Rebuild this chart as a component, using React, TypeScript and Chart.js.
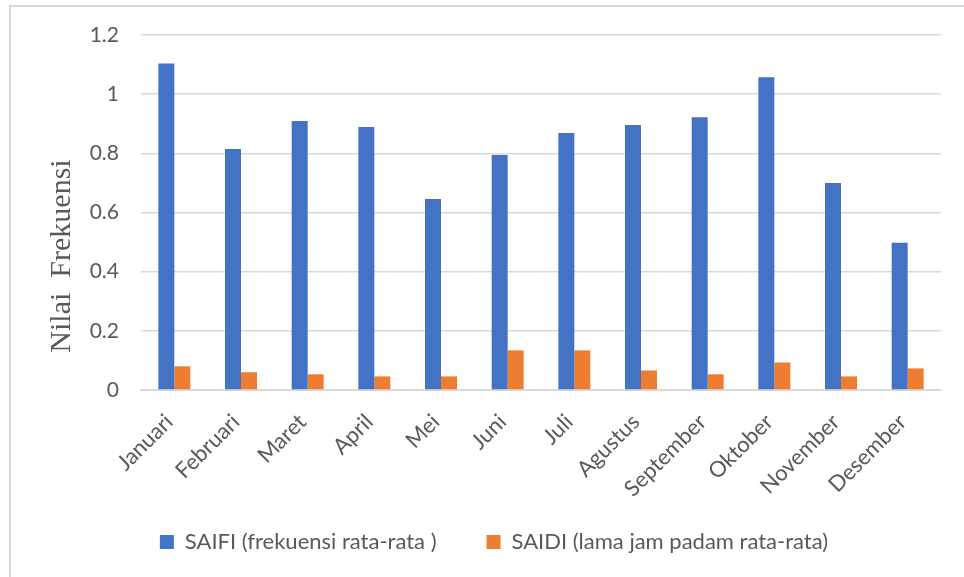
import React, { useEffect, useRef } from "react";
import { Chart, registerables } from "chart.js";

Chart.register(...registerables);

const months = [
  "Januari", "Februari", "Maret", "April", "Mei", "Juni",
  "Juli", "Agustus", "September", "Oktober", "November", "Desember",
];
const saifi = [1.104, 0.815, 0.909, 0.889, 0.646, 0.794, 0.869, 0.896, 0.922, 1.057, 0.7, 0.498];
const saidi = [0.08, 0.06, 0.053, 0.046, 0.046, 0.134, 0.134, 0.066, 0.053, 0.093, 0.046, 0.073];
const yTicks = [0, 0.2, 0.4, 0.6, 0.8, 1, 1.2];
const seriesNames = ["SAIFI (frekuensi rata-rata )", "SAIDI (lama jam padam rata-rata)"];
const seriesColors = ["#4472C4", "#ED7D31"];
const yTitle = "Nilai  Frekuensi";

const TEXT = "#595959";
const GRID = "#d9d9d9";

const yTitlePlugin = {
  id: "yTitleCustom",
  afterDraw(chart: any) {
    const { ctx, chartArea } = chart;
    const ys = chart.scales.y;
    ctx.save();
    ctx.translate(ys.left + 15, chartArea.bottom - 134);
    ctx.rotate(-Math.PI / 2);
    ctx.font = "30px 'Liberation Serif', 'Times New Roman', serif";
    ctx.fillStyle = TEXT;
    ctx.textAlign = "center";
    ctx.textBaseline = "middle";
    ctx.fillText(yTitle, 0, 0);
    ctx.restore();
  },
};

// let the rotated month labels draw below the x-axis box (no clipping)
const labelRoomPlugin = {
  id: "labelRoom",
  afterLayout(chart: any) {
    chart.scales.x.bottom = chart.height;
  },
};

export default function App() {
  const ref = useRef<HTMLCanvasElement>(null);

  useEffect(() => {
    if (!ref.current) return;
    Chart.defaults.font.family = "Lato";
    const chart = new Chart(ref.current, {
      type: "bar",
      data: {
        labels: months,
        datasets: [
          {
            label: seriesNames[0],
            data: saifi,
            backgroundColor: seriesColors[0],
            borderWidth: 0,
            categoryPercentage: 0.48,
            barPercentage: 1,
          },
          {
            label: seriesNames[1],
            data: saidi,
            backgroundColor: seriesColors[1],
            borderWidth: 0,
            categoryPercentage: 0.48,
            barPercentage: 1,
          },
        ],
      },
      options: {
        responsive: false,
        animation: false,
        devicePixelRatio: 1,
        layout: { padding: { top: 35, bottom: 14, left: 0, right: 0 } },
        plugins: {
          tooltip: { enabled: false },
          legend: {
            position: "bottom",
            labels: {
              color: TEXT,
              font: { size: 22, family: "Lato" },
              boxWidth: 14,
              boxHeight: 14,
              padding: 50,
            },
          },
        },
        scales: {
          x: {
            grid: { display: false, drawTicks: false },
            border: { display: true, color: GRID, width: 2 },
            ticks: {
              color: TEXT,
              font: { size: 22, family: "Lato" },
              minRotation: 45,
              maxRotation: 45,
              autoSkip: false,
              padding: 19,
              labelOffset: -5,
            },
            afterFit: (s: any) => {
              s.height = 91;
              s.paddingLeft = 0;
              s.paddingRight = 0;
            },
          },
          y: {
            min: 0,
            max: 1.2,
            grid: { color: GRID, lineWidth: 1.5, drawTicks: false },
            border: { display: false },
            ticks: {
              color: TEXT,
              font: { size: 21, family: "Lato" },
              padding: 22,
              callback: (v: any) => String(Math.round(Number(v) * 10) / 10),
            },
            afterBuildTicks: (s: any) => {
              s.ticks = yTicks.map((v) => ({ value: v }));
            },
            afterFit: (s: any) => {
              s.width = 94;
            },
          },
        },
      },
      plugins: [yTitlePlugin, labelRoomPlugin],
    });
    return () => chart.destroy();
  }, []);

  return (
    <div
      style={{
        position: "fixed",
        left: 0,
        top: 0,
        width: 964,
        height: 577,
        overflow: "hidden",
        background: "#fff",
      }}
    >
      <div
        style={{
          position: "absolute",
          left: 9,
          top: 5,
          width: 1100,
          height: 1000,
          border: `2px solid ${GRID}`,
          boxSizing: "border-box",
        }}
      />
      <canvas
        ref={ref}
        width={894}
        height={577}
        style={{ position: "absolute", left: 47, top: 0, width: 894, height: 577 }}
      />
    </div>
  );
}
